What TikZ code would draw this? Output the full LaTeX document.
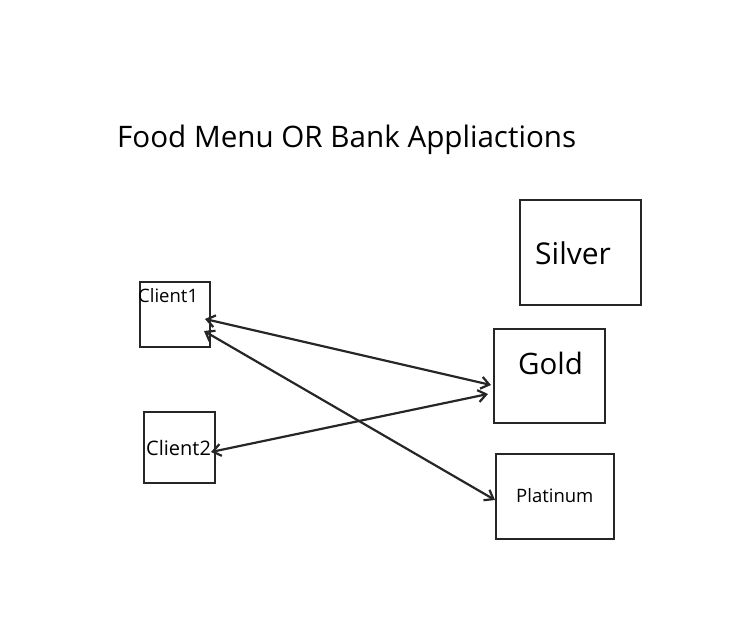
\documentclass[tikz,border=0pt]{standalone}
\usepackage{fontspec}
\setmainfont{Open Sans}
\usetikzlibrary{arrows.meta}
\definecolor{ink}{HTML}{262626}
\tikzset{
  box/.style={draw=ink, line width=2.2pt, inner sep=0pt},
  link/.style={draw=ink, line width=2.2pt, {Straight Barb[length=8pt,width=12pt,line width=2.2pt]}-{Straight Barb[length=8pt,width=12pt,line width=2.2pt]}},
  lbl/.style={inner sep=0pt, anchor=base west, text=black}
}
\begin{document}
\begin{tikzpicture}[x=1pt,y=-1pt]
\useasboundingbox (0,0) rectangle (742,639);
% title
\node[lbl, font=\fontsize{29.6}{34}\selectfont] (title) at (117,148) {Food Menu OR Bank Appliactions};
% boxes
\node[box, minimum width=70pt, minimum height=65pt] (c1) at (175,314.5) {};
\node[box, minimum width=71pt, minimum height=71pt] (c2) at (179.5,447.5) {};
\node[box, minimum width=121pt, minimum height=105pt] (silver) at (580.5,252.5) {};
\node[box, minimum width=111pt, minimum height=94pt] (gold) at (549.5,376) {};
\node[box, minimum width=118pt, minimum height=85pt] (plat) at (555,496.5) {};
% labels
\node[lbl, font=\fontsize{18.5}{22}\selectfont] (c1t) at (138,302.5) {Client1};
\node[lbl, font=\fontsize{20}{24}\selectfont] (c2t) at (146,455) {Client2};
\node[lbl, font=\fontsize{30}{34}\selectfont] (st) at (535,265) {Silver};
\node[lbl, font=\fontsize{29.5}{34}\selectfont] (gt) at (518,374) {Gold};
\node[lbl, font=\fontsize{18.5}{22}\selectfont] (pt) at (516,502.5) {Platinum};
% connector endpoints
\coordinate (a1) at (205,319);
\coordinate (a2) at (491,385);
\coordinate (b1) at (211,452);
\coordinate (b2) at (488,394);
\coordinate (d1) at (204,331);
\coordinate (d2) at (495,500);
\draw[link] (a1) -- (a2);
\draw[link] (b1) -- (b2);
\draw[link] (d1) -- (d2);
\end{tikzpicture}
\end{document}
